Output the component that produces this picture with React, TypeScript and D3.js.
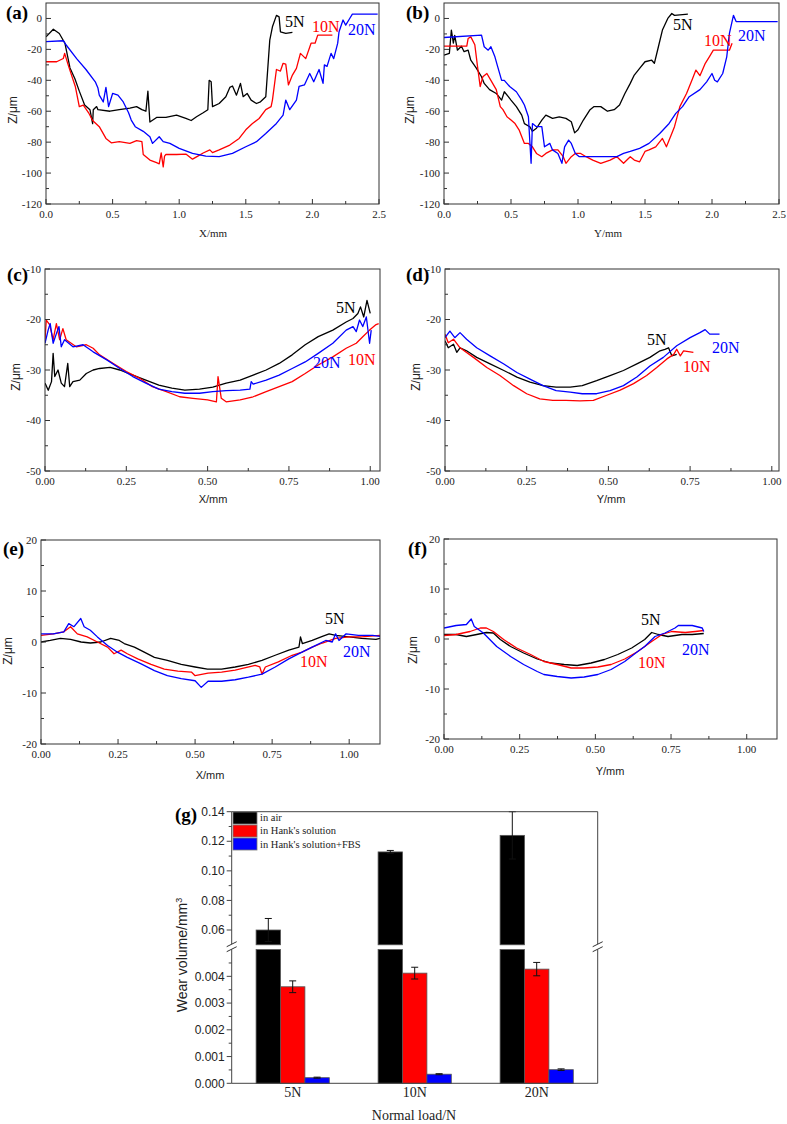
import React from 'react';
import * as d3 from 'd3';

const SERIF = '"Liberation Serif","Times New Roman",serif';
const SANS = '"Liberation Sans",Arial,sans-serif';

type Pt = [number, number];

// ---------- (a) X profiles ----------
const a5N: Pt[] = [[0,-11.9],[0.055,-7],[0.1,-9.7],[0.142,-16],[0.18,-32],[0.217,-39],[0.25,-47],[0.29,-56],[0.33,-59],[0.35,-68],[0.355,-59],[0.38,-57],[0.39,-59],[0.48,-60],[0.55,-59],[0.63,-58],[0.68,-57],[0.72,-59],[0.75,-60],[0.765,-47],[0.78,-67],[0.83,-64],[0.9,-64],[0.98,-62.5],[1.05,-64.6],[1.09,-66],[1.13,-63.6],[1.18,-61],[1.215,-59],[1.225,-40],[1.24,-41],[1.25,-57],[1.3,-55],[1.35,-50.6],[1.38,-44.6],[1.4,-43.7],[1.43,-49.6],[1.46,-42],[1.48,-50.6],[1.51,-48.5],[1.54,-52.8],[1.58,-55],[1.61,-53.9],[1.65,-50.6],[1.68,-14],[1.7,-5.4],[1.73,2],[1.75,1],[1.76,-8.6],[1.8,-9.7],[1.85,-9]];
const a10N: Pt[] = [[0,-28],[0.08,-28],[0.13,-25.9],[0.14,-22.6],[0.17,-31],[0.22,-44],[0.25,-57],[0.28,-56],[0.32,-61],[0.35,-66],[0.4,-70],[0.45,-77.6],[0.49,-80.4],[0.55,-79.7],[0.63,-80.8],[0.68,-79],[0.72,-79.7],[0.73,-88],[0.78,-91.6],[0.83,-93.3],[0.85,-94],[0.865,-87],[0.88,-96],[0.89,-89],[0.9,-88],[0.98,-88],[1.05,-87.7],[1.1,-91],[1.14,-89],[1.18,-87],[1.23,-85],[1.25,-86.8],[1.3,-85],[1.38,-81.9],[1.45,-77.6],[1.5,-72],[1.55,-68],[1.6,-64.7],[1.65,-59],[1.69,-57],[1.7,-52.8],[1.73,-33],[1.76,-34],[1.78,-29],[1.8,-29.5],[1.82,-43],[1.85,-36.6],[1.88,-32.3],[1.91,-22.6],[1.95,-26],[1.99,-16],[2.02,-16],[2.04,-10.8],[2.15,-10.8]];
const a20N: Pt[] = [[0,-15],[0.13,-14.4],[0.15,-17],[0.23,-26],[0.3,-33],[0.37,-41],[0.39,-45],[0.4,-49.6],[0.43,-54],[0.45,-44.6],[0.47,-57],[0.5,-48.5],[0.54,-49.6],[0.58,-54],[0.62,-61],[0.64,-65.7],[0.67,-70],[0.73,-73],[0.78,-76.5],[0.8,-80.8],[0.85,-76.5],[0.88,-79.7],[0.93,-80.8],[1.0,-84],[1.1,-87.3],[1.2,-89],[1.3,-89.4],[1.4,-87.3],[1.5,-83],[1.58,-79.7],[1.65,-74.4],[1.73,-67.9],[1.78,-62.5],[1.8,-52.8],[1.83,-59],[1.88,-52.8],[1.9,-44],[1.94,-43],[1.98,-35.6],[2.01,-40.9],[2.05,-33],[2.08,-42],[2.09,-30],[2.11,-31],[2.14,-22.6],[2.16,-26],[2.19,-16],[2.2,-8.6],[2.23,-1],[2.25,-4.3],[2.28,0],[2.3,2.8],[2.49,2.8]];

// ---------- (b) Y profiles ----------
const b5N: Pt[] = [[0,-23.7],[0.04,-22.6],[0.055,-7.5],[0.07,-16],[0.08,-11],[0.1,-20.5],[0.13,-18],[0.15,-21.5],[0.18,-20.5],[0.2,-27],[0.24,-32],[0.28,-37.7],[0.3,-42],[0.34,-46],[0.39,-48.5],[0.43,-52.8],[0.45,-47.4],[0.48,-50.6],[0.5,-52.8],[0.54,-57],[0.58,-62.5],[0.6,-68],[0.64,-70],[0.66,-73],[0.69,-71],[0.73,-65.7],[0.76,-62.5],[0.81,-64.6],[0.86,-63.6],[0.91,-64.6],[0.95,-66.8],[0.975,-74],[1.0,-72],[1.04,-65.7],[1.09,-59],[1.12,-57],[1.17,-57],[1.22,-60],[1.27,-59],[1.31,-56],[1.35,-48.5],[1.39,-42],[1.42,-36.6],[1.46,-32.3],[1.5,-28],[1.55,-27],[1.57,-29],[1.6,-18.3],[1.63,-7.5],[1.67,0],[1.7,3.2],[1.72,2],[1.82,2.8]];
const b10N: Pt[] = [[0,-17.9],[0.17,-17.9],[0.18,-13],[0.2,-11.9],[0.23,-17],[0.25,-31],[0.27,-44],[0.29,-37.7],[0.32,-35.6],[0.35,-40],[0.39,-46],[0.42,-57],[0.44,-59],[0.47,-63.6],[0.5,-65.7],[0.53,-68],[0.56,-72],[0.6,-80.8],[0.63,-80.8],[0.66,-83],[0.69,-87.3],[0.73,-89.4],[0.76,-87.3],[0.81,-85],[0.85,-85],[0.89,-89.4],[0.91,-93.7],[0.95,-89.4],[0.98,-87.3],[1.02,-87.3],[1.06,-89.4],[1.11,-91.6],[1.17,-93.7],[1.24,-91.6],[1.29,-89.4],[1.34,-93.7],[1.39,-89.4],[1.42,-91.6],[1.46,-92.7],[1.5,-86],[1.53,-85],[1.58,-83],[1.63,-77.6],[1.66,-83],[1.7,-74.4],[1.72,-70],[1.76,-57],[1.81,-48.5],[1.85,-40],[1.88,-33.4],[1.91,-37],[1.95,-29],[1.98,-24.8],[2.01,-20.5],[2.13,-20.5],[2.15,-16]];
const b20N: Pt[] = [[0,-12.3],[0.28,-10.8],[0.3,-18.3],[0.33,-20.5],[0.35,-18.3],[0.38,-24.8],[0.4,-31],[0.43,-40],[0.45,-40],[0.49,-44],[0.54,-47.4],[0.58,-52.8],[0.6,-56],[0.63,-63.6],[0.64,-78.7],[0.65,-93.7],[0.66,-68],[0.69,-70],[0.73,-70],[0.75,-83],[0.79,-80.8],[0.81,-85],[0.85,-87.3],[0.88,-93.7],[0.9,-83],[0.93,-78.7],[0.95,-80.8],[0.98,-87.3],[1.01,-89.4],[1.09,-89.4],[1.19,-89.4],[1.29,-89.4],[1.34,-87.3],[1.39,-86],[1.46,-84],[1.53,-80.8],[1.61,-74.4],[1.68,-67.9],[1.73,-61.4],[1.78,-57],[1.83,-50.6],[1.91,-46],[1.96,-41],[2.0,-35.6],[2.02,-40],[2.04,-41],[2.08,-35.6],[2.11,-24.8],[2.13,-9.7],[2.16,2],[2.18,-2],[2.49,-2]];

// ---------- (c) X profiles ----------
const c5N: Pt[] = [[0,-32.6],[0.01,-34],[0.02,-32.3],[0.025,-26.7],[0.03,-31.3],[0.04,-30],[0.05,-32.6],[0.06,-33.3],[0.07,-28.7],[0.076,-33.3],[0.086,-32.3],[0.107,-32],[0.127,-30.7],[0.148,-30],[0.168,-29.7],[0.2,-29.5],[0.23,-30],[0.27,-31],[0.31,-32],[0.35,-33],[0.39,-33.6],[0.43,-34],[0.475,-33.8],[0.516,-33.4],[0.557,-32.6],[0.6,-32],[0.64,-31],[0.68,-30],[0.72,-28.7],[0.76,-27],[0.8,-25],[0.84,-23.4],[0.885,-22.1],[0.926,-20.5],[0.947,-19.8],[0.962,-18.8],[0.97,-17.5],[0.98,-19.5],[0.99,-16.2],[1.0,-18.8]];
const c10N: Pt[] = [[0,-24],[0.004,-20.1],[0.014,-21],[0.025,-24],[0.035,-20.8],[0.045,-24],[0.055,-21.8],[0.065,-24],[0.096,-25.4],[0.127,-25],[0.148,-25.7],[0.168,-27],[0.21,-28.7],[0.25,-30.3],[0.29,-31.6],[0.33,-33.3],[0.373,-34.3],[0.414,-35.3],[0.455,-35.6],[0.5,-35.9],[0.527,-36.3],[0.532,-31.3],[0.542,-35.6],[0.557,-36.3],[0.6,-35.9],[0.64,-35.3],[0.68,-34.3],[0.72,-33.3],[0.76,-32.3],[0.8,-30.7],[0.84,-29],[0.885,-27.4],[0.926,-25.7],[0.957,-24.7],[0.977,-23.4],[0.998,-22.1],[1.018,-21],[1.026,-20.8]];
const c20N: Pt[] = [[0,-24.7],[0.01,-22],[0.016,-20.8],[0.025,-24.7],[0.035,-22.8],[0.043,-21.4],[0.05,-25.4],[0.06,-24],[0.086,-25.4],[0.117,-25],[0.148,-26.4],[0.19,-28],[0.23,-29.7],[0.27,-31.3],[0.31,-32.6],[0.35,-33.8],[0.39,-34.3],[0.43,-34.6],[0.475,-34.6],[0.516,-34.3],[0.557,-34.1],[0.6,-34],[0.63,-33.8],[0.634,-32.3],[0.64,-32.8],[0.68,-32],[0.72,-31],[0.76,-29.7],[0.8,-28.4],[0.84,-26.7],[0.885,-24.7],[0.926,-22.1],[0.947,-21.4],[0.957,-22.4],[0.967,-20.1],[0.977,-21.4],[0.988,-19.5],[0.998,-24.7],[1.003,-22.1]];

// ---------- (d) Y profiles ----------
const d5N: Pt[] = [[0,-24.2],[0.01,-25.6],[0.026,-24.9],[0.036,-26.5],[0.046,-25.6],[0.066,-26.2],[0.097,-27.5],[0.138,-28.8],[0.18,-30.1],[0.22,-31.4],[0.26,-32.4],[0.3,-33.1],[0.34,-33.4],[0.383,-33.4],[0.42,-33.1],[0.464,-32.1],[0.505,-31.1],[0.546,-30.1],[0.587,-28.8],[0.627,-27.5],[0.658,-26.2],[0.673,-25.9],[0.684,-25.6],[0.694,-27.2],[0.709,-26.9]];
const d10N: Pt[] = [[0,-22.9],[0.01,-24.6],[0.026,-23.9],[0.046,-25.6],[0.087,-27.5],[0.128,-29.5],[0.168,-31.1],[0.21,-33.1],[0.25,-34.7],[0.29,-35.7],[0.33,-36],[0.37,-36],[0.413,-36.1],[0.454,-36],[0.495,-35],[0.536,-34],[0.577,-32.7],[0.617,-31.1],[0.648,-29.5],[0.679,-27.8],[0.7,-26.9],[0.709,-25.9],[0.72,-27.2],[0.73,-26.2],[0.76,-26.5]];
const d20N: Pt[] = [[0,-23.6],[0.015,-22.3],[0.03,-23.6],[0.046,-22.6],[0.066,-23.9],[0.097,-25.6],[0.138,-27.2],[0.18,-28.8],[0.22,-30.5],[0.26,-31.8],[0.3,-33.1],[0.34,-34.1],[0.383,-34.4],[0.42,-34.7],[0.464,-34.7],[0.505,-34.1],[0.546,-33.1],[0.587,-31.4],[0.627,-29.2],[0.668,-27.5],[0.709,-25.2],[0.75,-23.6],[0.78,-22.6],[0.796,-22],[0.81,-22.9],[0.84,-22.9]];

// ---------- (e) X profiles ----------
const e5N: Pt[] = [[0,0],[0.03,0.3],[0.063,0.7],[0.096,0.5],[0.13,0],[0.16,-0.2],[0.194,0],[0.226,0.7],[0.254,0.3],[0.27,-0.3],[0.303,-1],[0.335,-2],[0.368,-3],[0.41,-3.6],[0.455,-4.4],[0.5,-4.9],[0.54,-5.3],[0.586,-5.3],[0.63,-4.9],[0.673,-4.4],[0.717,-3.6],[0.76,-2.6],[0.804,-1.6],[0.837,-1],[0.842,1],[0.848,-0.3],[0.88,0.3],[0.913,1.1],[0.935,1.6],[0.956,1.3],[1.0,1],[1.04,0.7],[1.087,0.5],[1.1,0.7]];
const e10N: Pt[] = [[0,1.3],[0.04,1.6],[0.074,2],[0.096,3],[0.118,1.6],[0.15,1],[0.183,0],[0.216,-1],[0.237,-2.3],[0.26,-1.6],[0.28,-2.3],[0.314,-3.3],[0.357,-4.4],[0.4,-5.3],[0.444,-5.7],[0.488,-5.9],[0.5,-6.6],[0.542,-6.1],[0.586,-5.9],[0.63,-5.5],[0.695,-4.6],[0.71,-4.9],[0.717,-6.3],[0.728,-4.9],[0.77,-3.9],[0.815,-2.6],[0.847,-2],[0.88,-1],[0.913,-0.2],[0.956,0.7],[1.0,1],[1.04,1],[1.1,1.3]];
const e20N: Pt[] = [[0,1.6],[0.04,1.6],[0.074,2],[0.09,3.6],[0.107,3],[0.129,4.6],[0.14,3],[0.16,2.3],[0.183,1],[0.216,-0.7],[0.248,-2],[0.28,-3],[0.325,-4.3],[0.368,-5.6],[0.41,-6.6],[0.455,-7.2],[0.5,-7.6],[0.52,-8.9],[0.542,-7.7],[0.586,-7.7],[0.63,-7.4],[0.673,-6.9],[0.717,-6.3],[0.76,-4.9],[0.804,-3.3],[0.847,-2],[0.89,-0.7],[0.924,0.3],[0.945,0],[0.956,1.6],[0.967,0.3],[0.99,1.6],[1.03,1.3],[1.076,1.3],[1.1,1.1]];

// ---------- (f) Y profiles ----------
const f5N: Pt[] = [[0,0.9],[0.04,0.9],[0.074,0.5],[0.108,0.9],[0.14,1.3],[0.163,1.2],[0.186,-0.1],[0.22,-1.5],[0.263,-2.8],[0.308,-4],[0.352,-4.8],[0.397,-5.1],[0.44,-5.3],[0.486,-4.8],[0.53,-4.1],[0.574,-3.1],[0.62,-1.8],[0.663,-0.1],[0.686,1.3],[0.708,0.9],[0.74,0.5],[0.786,0.9],[0.82,0.9],[0.858,1.1]];
const f10N: Pt[] = [[0,0.7],[0.04,0.9],[0.086,1.5],[0.12,2.2],[0.14,2.2],[0.163,1.5],[0.197,-0.1],[0.24,-1.8],[0.286,-3.1],[0.33,-4.5],[0.374,-5.1],[0.42,-5.8],[0.463,-5.8],[0.508,-5.6],[0.552,-5.1],[0.597,-4],[0.64,-2.5],[0.686,-0.5],[0.72,0.9],[0.752,1.5],[0.797,1.3],[0.83,1.5],[0.858,1.7]];
const f20N: Pt[] = [[0,2.2],[0.04,2.7],[0.074,2.9],[0.09,4],[0.1,2.5],[0.13,1.2],[0.174,-1.5],[0.22,-3.5],[0.263,-5.1],[0.308,-6.5],[0.33,-7.1],[0.374,-7.5],[0.42,-7.8],[0.463,-7.6],[0.508,-7.1],[0.552,-6.1],[0.597,-4.5],[0.64,-2.5],[0.663,-1.5],[0.697,0.5],[0.73,1.2],[0.763,2.2],[0.774,2.7],[0.82,2.7],[0.853,2.2],[0.858,1.5]];

// ---------- ticks ----------
const abXTicks = [0, 0.5, 1.0, 1.5, 2.0, 2.5];
const abXMinor = [0.25, 0.75, 1.25, 1.75, 2.25];
const abYTicks = [0, -20, -40, -60, -80, -100, -120];
const abYMinor = [-10, -30, -50, -70, -90, -110];
const cdXTicks = [0, 0.25, 0.5, 0.75, 1.0];
const cdXMinor = [0.125, 0.375, 0.625, 0.875];
const cdYTicks = [-10, -20, -30, -40, -50];
const cdYMinor = [-15, -25, -35, -45];
const efXTicks = [0, 0.25, 0.5, 0.75, 1.0];
const efXMinor = [0.125, 0.375, 0.625, 0.875];
const efYTicks = [20, 10, 0, -10, -20];
const efYMinor = [15, 5, -5, -15];

// ---------- (g) wear volume ----------
const loads = ['5N', '10N', '20N'];
const conditions = ['in air', "in Hank's solution", "in Hank's solution+FBS"];
const condColors = ['#000000', '#ff0000', '#0000ff'];
const wearAir = [0.060, 0.1128, 0.124];
const wearAirErr = [0.0078, 0.001, 0.016];
const wearHank = [0.00361, 0.00412, 0.00427];
const wearHankErr = [0.00022, 0.00022, 0.00025];
const wearFBS = [0.00021, 0.00034, 0.00051];
const wearFBSErr = [0.00002, 0.00002, 0.00003];
const gUpperTicks = [0.06, 0.08, 0.10, 0.12, 0.14];
const gUpperMinor = [0.07, 0.09, 0.11, 0.13];
const gLowerTicks = [0, 0.001, 0.002, 0.003, 0.004];
const gLowerMinor = [0.0005, 0.0015, 0.0025, 0.0035, 0.0045];

const BLACK = '#000000', RED = '#ff0000', BLUE = '#0000ff';
const FRAME = '#333333';

interface PanelCfg {
  id: string;
  left: number; right: number; top: number; bottom: number;
  xDomain: [number, number]; yDomain: [number, number];
  xTicks: number[]; xMinor: number[]; yTicks: number[]; yMinor: number[];
  xFmt: (d: number) => string;
  series: { data: Pt[]; color: string }[];
  labels: { text: string; x: number; y: number; color: string }[];
  tag: { x: number; y: number };
  yLabel: { x: number; y: number };
  xLabel: { x: number; y: number; text: string; serif: boolean };
}

const f1 = d3.format('.1f');
const f2 = d3.format('.2f');

const panels: PanelCfg[] = [
  {
    id: 'a', left: 46, right: 379, top: 3, bottom: 204, xDomain: [0, 2.5], yDomain: [-120, 10],
    xTicks: abXTicks, xMinor: abXMinor, yTicks: abYTicks, yMinor: abYMinor, xFmt: f1,
    series: [{ data: a5N, color: BLACK }, { data: a10N, color: RED }, { data: a20N, color: BLUE }],
    labels: [{ text: '5N', x: 285, y: 27, color: BLACK }, { text: '10N', x: 312, y: 32, color: RED }, { text: '20N', x: 348, y: 35, color: BLUE }],
    tag: { x: 6, y: 19 }, yLabel: { x: 13, y: 110 }, xLabel: { x: 213, y: 237, text: 'X/mm', serif: true },
  },
  {
    id: 'b', left: 444, right: 779, top: 3, bottom: 204, xDomain: [0, 2.5], yDomain: [-120, 10],
    xTicks: abXTicks, xMinor: abXMinor, yTicks: abYTicks, yMinor: abYMinor, xFmt: f1,
    series: [{ data: b5N, color: BLACK }, { data: b10N, color: RED }, { data: b20N, color: BLUE }],
    labels: [{ text: '5N', x: 673, y: 30, color: BLACK }, { text: '10N', x: 704, y: 46, color: RED }, { text: '20N', x: 738, y: 41, color: BLUE }],
    tag: { x: 406, y: 19 }, yLabel: { x: 410, y: 110 }, xLabel: { x: 608, y: 237, text: 'Y/mm', serif: true },
  },
  {
    id: 'c', left: 45, right: 380, top: 269, bottom: 471, xDomain: [0, 1.03], yDomain: [-50, -10],
    xTicks: cdXTicks, xMinor: cdXMinor, yTicks: cdYTicks, yMinor: cdYMinor, xFmt: f2,
    series: [{ data: c5N, color: BLACK }, { data: c10N, color: RED }, { data: c20N, color: BLUE }],
    labels: [{ text: '5N', x: 336, y: 313, color: BLACK }, { text: '20N', x: 313, y: 368, color: BLUE }, { text: '10N', x: 348, y: 365, color: RED }],
    tag: { x: 7, y: 281 }, yLabel: { x: 16, y: 377 }, xLabel: { x: 213, y: 503, text: 'X/mm', serif: false },
  },
  {
    id: 'd', left: 445, right: 779, top: 269, bottom: 471, xDomain: [0, 1.022], yDomain: [-50, -10],
    xTicks: cdXTicks, xMinor: cdXMinor, yTicks: cdYTicks, yMinor: cdYMinor, xFmt: f2,
    series: [{ data: d5N, color: BLACK }, { data: d10N, color: RED }, { data: d20N, color: BLUE }],
    labels: [{ text: '5N', x: 647, y: 345, color: BLACK }, { text: '20N', x: 712, y: 353, color: BLUE }, { text: '10N', x: 683, y: 372, color: RED }],
    tag: { x: 406, y: 281 }, yLabel: { x: 416, y: 377 }, xLabel: { x: 611, y: 503, text: 'Y/mm', serif: false },
  },
  {
    id: 'e', left: 41, right: 380, top: 540, bottom: 744, xDomain: [0, 1.1], yDomain: [-20, 20],
    xTicks: efXTicks, xMinor: efXMinor, yTicks: efYTicks, yMinor: efYMinor, xFmt: f2,
    series: [{ data: e5N, color: BLACK }, { data: e10N, color: RED }, { data: e20N, color: BLUE }],
    labels: [{ text: '5N', x: 325, y: 624, color: BLACK }, { text: '10N', x: 300, y: 667, color: RED }, { text: '20N', x: 343, y: 657, color: BLUE }],
    tag: { x: 3, y: 555 }, yLabel: { x: 8, y: 651 }, xLabel: { x: 210, y: 779, text: 'X/mm', serif: false },
  },
  {
    id: 'f', left: 444, right: 777, top: 539, bottom: 739, xDomain: [0, 1.1], yDomain: [-20, 20],
    xTicks: efXTicks, xMinor: efXMinor, yTicks: efYTicks, yMinor: efYMinor, xFmt: f2,
    series: [{ data: f5N, color: BLACK }, { data: f10N, color: RED }, { data: f20N, color: BLUE }],
    labels: [{ text: '5N', x: 641, y: 625, color: BLACK }, { text: '20N', x: 682, y: 655, color: BLUE }, { text: '10N', x: 638, y: 668, color: RED }],
    tag: { x: 408, y: 555 }, yLabel: { x: 413, y: 650 }, xLabel: { x: 610, y: 775, text: 'Y/mm', serif: false },
  },
];

function LinePanel({ cfg }: { cfg: PanelCfg }) {
  const x = d3.scaleLinear().domain(cfg.xDomain).range([cfg.left, cfg.right]);
  const y = d3.scaleLinear().domain(cfg.yDomain).range([cfg.bottom, cfg.top]);
  const line = d3.line<Pt>().x(d => x(d[0])).y(d => y(d[1]));
  const clipId = 'clip-' + cfg.id;
  return (
    <g>
      <defs>
        <clipPath id={clipId}>
          <rect x={cfg.left} y={cfg.top} width={cfg.right - cfg.left} height={cfg.bottom - cfg.top} />
        </clipPath>
      </defs>
      <g clipPath={`url(#${clipId})`}>
        {cfg.series.map((s, i) => (
          <path key={i} d={line(s.data) || ''} fill="none" stroke={s.color} strokeWidth={1.3} strokeLinejoin="round" />
        ))}
      </g>
      <rect x={cfg.left} y={cfg.top} width={cfg.right - cfg.left} height={cfg.bottom - cfg.top} fill="none" stroke={FRAME} strokeWidth={1} />
      {cfg.xTicks.map((t, i) => (
        <g key={'xt' + i}>
          <line x1={x(t)} x2={x(t)} y1={cfg.bottom} y2={cfg.bottom - 5} stroke={FRAME} />
          <text x={x(t)} y={cfg.bottom + 14} textAnchor="middle" fontFamily={SERIF} fontSize={11} fill="#222">{cfg.xFmt(t)}</text>
        </g>
      ))}
      {cfg.xMinor.map((t, i) => (
        <line key={'xm' + i} x1={x(t)} x2={x(t)} y1={cfg.bottom} y2={cfg.bottom - 3} stroke={FRAME} />
      ))}
      {cfg.yTicks.map((t, i) => (
        <g key={'yt' + i}>
          <line x1={cfg.left} x2={cfg.left + 5} y1={y(t)} y2={y(t)} stroke={FRAME} />
          <text x={cfg.left - 4} y={y(t)} dy="0.35em" textAnchor="end" fontFamily={SERIF} fontSize={11} fill="#222">{String(t)}</text>
        </g>
      ))}
      {cfg.yMinor.map((t, i) => (
        <line key={'ym' + i} x1={cfg.left} x2={cfg.left + 3} y1={y(t)} y2={y(t)} stroke={FRAME} />
      ))}
      {cfg.labels.map((l, i) => (
        <text key={'l' + i} x={l.x} y={l.y} fontFamily={SERIF} fontSize={16} fill={l.color}>{l.text}</text>
      ))}
      <text x={cfg.tag.x} y={cfg.tag.y} fontFamily={SERIF} fontSize={19} fontWeight="bold" fill="#000">({cfg.id})</text>
      <text transform={`translate(${cfg.yLabel.x},${cfg.yLabel.y}) rotate(-90)`} textAnchor="middle" dy="0.35em" fontFamily={SANS} fontSize={12} fill="#222">Z/μm</text>
      <text x={cfg.xLabel.x} y={cfg.xLabel.y} textAnchor="middle" fontFamily={cfg.xLabel.serif ? SERIF : SANS} fontSize={11} fill="#222">{cfg.xLabel.text}</text>
    </g>
  );
}

function WearChart() {
  const left = 231.7, right = 597.7;
  const yLow = d3.scaleLinear().domain([0, 0.005]).range([1083.3, 949.6]);
  const yUp = d3.scaleLinear().domain([0.05, 0.14]).range([944.8, 811.7]);
  const band = d3.scaleBand<string>().domain(loads).range([left, right]).padding(0);
  const bw = band.bandwidth();
  const vals = [wearAir, wearHank, wearFBS];
  const errs = [wearAirErr, wearHankErr, wearFBSErr];
  const yOf = (v: number) => (v <= 0.005 ? yLow(v) : yUp(Math.max(v, 0.05)));
  const breakY = (yLow(0.005) + yUp(0.05)) / 2;

  const bars: React.ReactNode[] = [];
  loads.forEach((ld, li) => {
    const sub = d3.scaleBand<number>().domain([0, 1, 2]).range([band(ld)! + bw * 0.2, band(ld)! + bw * 0.8]);
    vals.forEach((arr, ci) => {
      const v = arr[li];
      const bx = sub(ci)!;
      const w = sub.bandwidth();
      const col = condColors[ci];
      if (v <= 0.005) {
        bars.push(<rect key={`b${li}${ci}`} x={bx} y={yLow(v)} width={w} height={yLow(0) - yLow(v)} fill={col} stroke="#555" strokeWidth={0.8} />);
      } else {
        bars.push(<rect key={`bl${li}${ci}`} x={bx} y={yLow(0.005)} width={w} height={yLow(0) - yLow(0.005)} fill={col} stroke="#555" strokeWidth={0.8} />);
        bars.push(<rect key={`bu${li}${ci}`} x={bx} y={yUp(v)} width={w} height={yUp(0.05) - yUp(v)} fill={col} stroke="#555" strokeWidth={0.8} />);
      }
      const e = errs[ci][li];
      const cx = bx + w / 2;
      const yt = yOf(v + e), yb = yOf(v - e);
      bars.push(
        <g key={`e${li}${ci}`} stroke="#111" strokeWidth={1}>
          <line x1={cx} x2={cx} y1={yt} y2={yb} />
          <line x1={cx - 3.5} x2={cx + 3.5} y1={yt} y2={yt} />
          <line x1={cx - 3.5} x2={cx + 3.5} y1={yb} y2={yb} />
        </g>
      );
    });
  });

  const breakMark = (bx: number) => (
    <g stroke="#333" strokeWidth={1}>
      <line x1={bx - 5} y1={breakY - 0.5} x2={bx + 5} y2={breakY - 5.5} />
      <line x1={bx - 5} y1={breakY + 4.5} x2={bx + 5} y2={breakY - 0.5} />
    </g>
  );

  return (
    <g>
      {bars}
      {/* axes */}
      <g stroke="#444" strokeWidth={1} fill="none">
        <line x1={left} x2={right} y1={yUp(0.14)} y2={yUp(0.14)} />
        <line x1={left} x2={right} y1={yLow(0)} y2={yLow(0)} />
        <line x1={left} x2={left} y1={yUp(0.14)} y2={breakY - 3} />
        <line x1={left} x2={left} y1={breakY + 2} y2={yLow(0)} />
        <line x1={right} x2={right} y1={yUp(0.14)} y2={breakY - 3} />
        <line x1={right} x2={right} y1={breakY + 2} y2={yLow(0)} />
      </g>
      <rect x={left - 6} y={breakY - 3} width={12} height={5} fill="#fff" />
      <rect x={right - 6} y={breakY - 3} width={12} height={5} fill="#fff" />
      {breakMark(left)}
      {breakMark(right)}
      {gUpperTicks.map((t, i) => (
        <g key={'gu' + i}>
          <line x1={left - 5} x2={left} y1={yUp(t)} y2={yUp(t)} stroke="#444" />
          <text x={left - 7} y={yUp(t)} dy="0.35em" textAnchor="end" fontFamily={SANS} fontSize={12} fill="#222">{d3.format('.2f')(t)}</text>
        </g>
      ))}
      {gUpperMinor.map((t, i) => (
        <line key={'gum' + i} x1={left - 3} x2={left} y1={yUp(t)} y2={yUp(t)} stroke="#444" />
      ))}
      {gLowerTicks.map((t, i) => (
        <g key={'gl' + i}>
          <line x1={left - 5} x2={left} y1={yLow(t)} y2={yLow(t)} stroke="#444" />
          <text x={left - 7} y={yLow(t)} dy="0.35em" textAnchor="end" fontFamily={SANS} fontSize={12} fill="#222">{d3.format('.3f')(t)}</text>
        </g>
      ))}
      {gLowerMinor.map((t, i) => (
        <line key={'glm' + i} x1={left - 3} x2={left} y1={yLow(t)} y2={yLow(t)} stroke="#444" />
      ))}
      {loads.map((ld, i) => (
        <text key={'xl' + i} x={band(ld)! + bw / 2} y={1097} textAnchor="middle" fontFamily={SERIF} fontSize={14} fill="#222">{ld}</text>
      ))}
      <text x={414} y={1120} textAnchor="middle" fontFamily={SERIF} fontSize={14} fill="#222">Normal load/N</text>
      <text transform="translate(182,955) rotate(-90)" textAnchor="middle" dy="0.35em" fontFamily={SANS} fontSize={14} fill="#222">
        Wear volume/mm<tspan dy="-5" fontSize={9}>3</tspan>
      </text>
      {/* legend */}
      {conditions.map((c, i) => (
        <g key={'lg' + i}>
          <rect x={233} y={812 + i * 13} width={24} height={12} fill={condColors[i]} stroke="#777" strokeWidth={0.8} />
          <text x={260} y={821 + i * 13.3} fontFamily={SERIF} fontSize={10.5} fill="#222">{c}</text>
        </g>
      ))}
      <text x={175} y={821} fontFamily={SERIF} fontSize={19} fontWeight="bold" fill="#000">(g)</text>
    </g>
  );
}

export default function App() {
  return (
    <svg width={787} height={1124} style={{ position: 'absolute', left: 0, top: 0, background: '#fff' }}>
      <rect x={0} y={0} width={787} height={1124} fill="#fff" />
      {panels.map(p => <LinePanel key={p.id} cfg={p} />)}
      <WearChart />
    </svg>
  );
}
